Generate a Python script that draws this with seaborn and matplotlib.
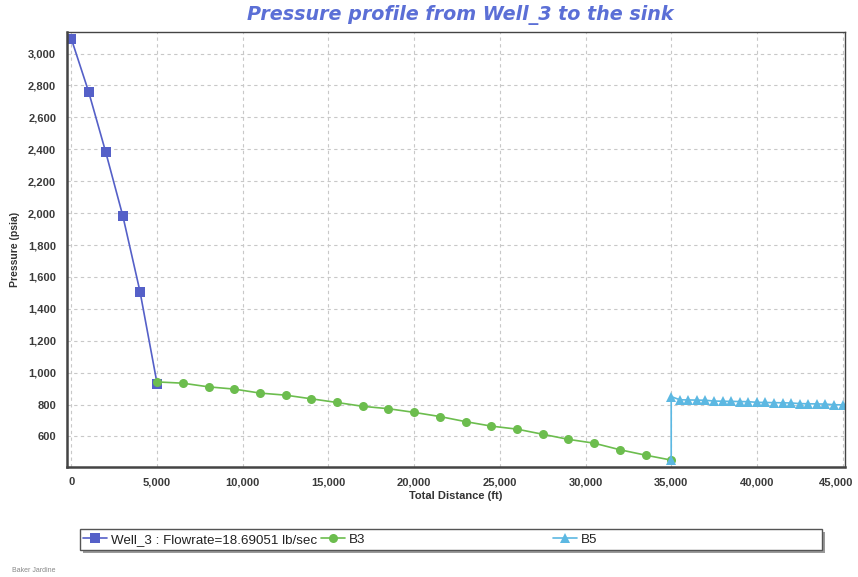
import numpy as np
import pandas as pd
import matplotlib
matplotlib.use("Agg")
import matplotlib.pyplot as plt
from matplotlib.ticker import FuncFormatter, MultipleLocator
from matplotlib.patches import Rectangle
from matplotlib.transforms import ScaledTranslation
import seaborn as sns

# ---- data ----
well3_x = [0, 1000, 2000, 3000, 4000, 5000]
well3_p = [3090, 2761, 2382, 1981, 1508, 930]

b3_x = [5000, 6500, 8000, 9500, 11000, 12500, 14000, 15500, 17000, 18500, 20000,
        21500, 23000, 24500, 26000, 27500, 29000, 30500, 32000, 33500, 35000]
b3_p = [942, 934, 911, 897, 872, 859, 836, 813, 789, 774, 751,
        725, 693, 665, 646, 614, 582, 558, 517, 483, 452]

b5_x = [35000, 35000, 35500, 36000, 36500, 37000, 37500, 38000, 38500, 39000, 39500,
        40000, 40500, 41000, 41500, 42000, 42500, 43000, 43500, 44000, 44500, 45000]
b5_p = [452, 850, 830, 829, 828, 827, 822, 821, 820, 819, 818,
        814, 813, 812, 811, 810, 806, 805, 804, 803, 799, 798]

title = "Pressure profile from Well_3 to the sink"
x_label = "Total Distance (ft)"
y_label = "Pressure (psia)"
legend_labels = ["Well_3 : Flowrate=18.69051 lb/sec", "B3", "B5"]
footer = "Baker Jardine"

# ---- style ----
sns.set_style("whitegrid", {"grid.linestyle": (0, (3, 3)), "grid.color": "#c8c8c8"})
plt.rcParams["font.family"] = ["Liberation Sans", "DejaVu Sans"]

W, H = 858, 577
fig = plt.figure(figsize=(W / 100, H / 100), dpi=100)
ax = fig.add_axes([0.0777, 0.191, 0.985 - 0.0777, 0.9445 - 0.191])

c_well = "#5560c8"
c_b3 = "#6cbd4e"
c_b5 = "#5cb8e2"

df_w = pd.DataFrame({"x": well3_x, "p": well3_p})
df_b3 = pd.DataFrame({"x": b3_x, "p": b3_p})
df_b5 = pd.DataFrame({"x": b5_x, "p": b5_p})

sns.lineplot(data=df_w, x="x", y="p", ax=ax, color=c_well, marker="s",
             markersize=7.5, markeredgewidth=0, linewidth=1.2, sort=False,
             estimator=None, label=legend_labels[0])
sns.lineplot(data=df_b3, x="x", y="p", ax=ax, color=c_b3, marker="o",
             markersize=6.5, markeredgewidth=0, linewidth=1.2, sort=False,
             estimator=None, label=legend_labels[1])
sns.lineplot(data=df_b5, x="x", y="p", ax=ax, color=c_b5, marker="^",
             markersize=7, markeredgewidth=0, linewidth=1.2, sort=False,
             estimator=None, label=legend_labels[2])

ax.set_xlim(-280, 45150)
ax.set_ylim(410, 3135)
ax.xaxis.set_major_locator(MultipleLocator(5000))
ax.set_yticks(np.arange(600, 3001, 200))
fmt = FuncFormatter(lambda v, p: f"{int(v):,}")
ax.xaxis.set_major_formatter(fmt)
ax.yaxis.set_major_formatter(fmt)
ax.tick_params(axis="both", labelsize=8, colors="#333333", pad=4)
ax.set_xticks(np.arange(0, 45001, 5000))
fig.canvas.draw()
for lab in ax.get_xticklabels() + ax.get_yticklabels():
    lab.set_fontweight("bold")
    lab.set_color("#3a3a3a")
# last x tick label nudged left so it stays inside the figure, as in the reference
last = ax.get_xticklabels()[-1]
last.set_transform(last.get_transform() + ScaledTranslation(-6 / 100, 0, fig.dpi_scale_trans))

ax.set_xlabel(x_label, fontsize=8, fontweight="bold", color="#333333", labelpad=3)
ax.set_ylabel(y_label, fontsize=7.5, fontweight="bold", color="#333333", labelpad=6)

for side, sp in ax.spines.items():
    sp.set_visible(True)
    sp.set_color("#444444")
    sp.set_linewidth(1.8 if side in ("left", "bottom") else 1.0)

fig.text(460 / W, 1 - 15 / H, title, ha="center", va="center", fontsize=13.8,
         fontstyle="italic", fontweight="bold", color="#5b6fd6",
         family=["DejaVu Sans"])

# ---- legend: framed box with shadow, entries placed like the reference ----
handles, labels = ax.get_legend_handles_labels()
if ax.get_legend():
    ax.get_legend().remove()

bx0, bx1, by0, by1 = 80, 822, 529, 550
fig.patches.append(Rectangle((bx0 + 3, H - by1 - 3), bx1 - bx0, by1 - by0,
                             transform=None, facecolor="#9a9a9a", edgecolor="none",
                             zorder=1))
fig.patches.append(Rectangle((bx0, H - by1), bx1 - bx0, by1 - by0,
                             transform=None, facecolor="white", edgecolor="#555555",
                             linewidth=1.0, zorder=2))

yc = 1 - (by0 + by1) / 2 / H
leg1 = fig.legend(handles[:2], labels[:2], loc="center left",
                  bbox_to_anchor=(bx0 / W, yc), ncol=2,
                  frameon=False, fontsize=9.6, handlelength=1.8, handletextpad=0.3,
                  columnspacing=0.3, borderpad=0, borderaxespad=0.2)
leg2 = fig.legend(handles[2:], labels[2:], loc="center left",
                  bbox_to_anchor=(553 / W, yc), ncol=1,
                  frameon=False, fontsize=9.6, handlelength=1.8, handletextpad=0.3,
                  borderpad=0, borderaxespad=0)
leg1.set_zorder(5)
leg2.set_zorder(5)
for t in leg1.get_texts() + leg2.get_texts():
    t.set_color("#222222")

fig.text(12 / W, 1 - 570 / H, footer, fontsize=5, color="#888888",
         ha="left", va="center")

fig.savefig("out.png", dpi=100)
